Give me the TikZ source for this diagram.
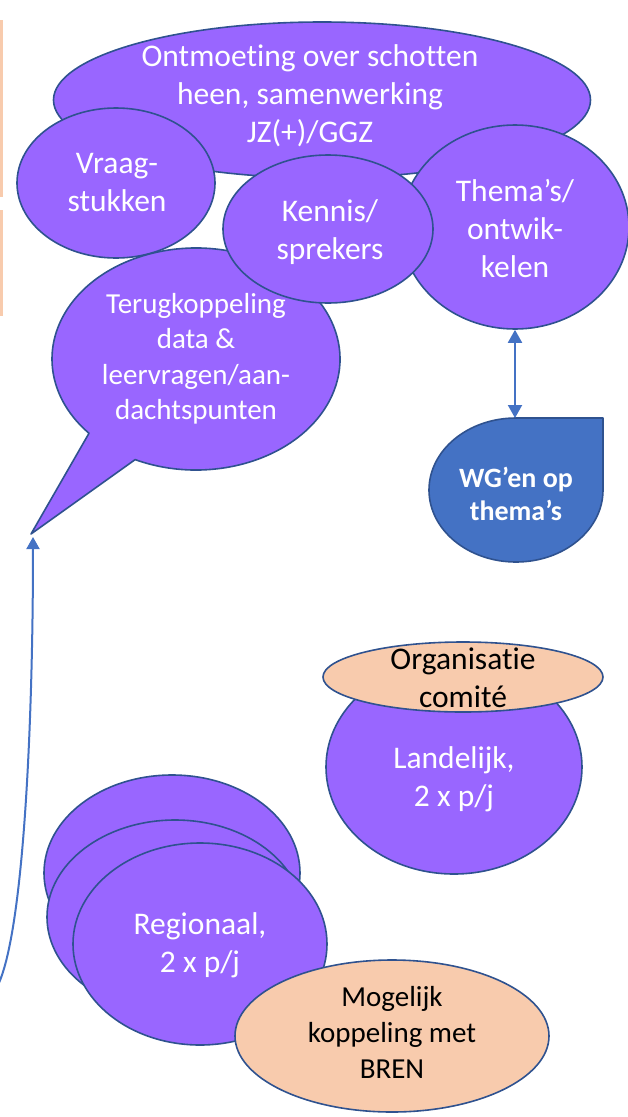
\documentclass[tikz,border=0pt]{standalone}
\usepackage{fontspec}
\setmainfont{Carlito}[Ligatures=NoCommon]
\usetikzlibrary{shapes.geometric,arrows.meta,calc}
\definecolor{purp}{HTML}{9966FF}
\definecolor{edgeblue}{HTML}{2F528F}
\definecolor{peach}{HTML}{F8CBAD}
\definecolor{arrowblue}{HTML}{4472C4}
\begin{document}
\begin{tikzpicture}[x=1pt,y=-1pt,
  blob/.style={ellipse,draw=edgeblue,line width=1.6pt,fill=purp,inner sep=0pt},
  peachblob/.style={ellipse,draw=edgeblue,line width=1.6pt,fill=peach,inner sep=0pt},
  shapeline/.style={draw=edgeblue,line width=1.6pt,line join=round},
  wtxt/.style={text=white,align=center,inner sep=0pt,font=\fontsize{31.5}{38}\selectfont},
  btxt/.style={text=black,align=center,inner sep=0pt,font=\fontsize{31.5}{38}\selectfont},
  conn/.style={draw=arrowblue,line width=2pt}
]
\useasboundingbox (0,0) rectangle (628,1117);
% peach strips at left edge
\fill[peach] (0,20) rectangle (2.7,197);
\fill[peach] (0,210) rectangle (2.7,316);

% top cluster
\node[blob,minimum width=537pt,minimum height=156pt] (meet) at (322,100) {};
\node[blob,minimum width=228pt,minimum height=204pt] (thema) at (515,227) {};
\node[blob,minimum width=198pt,minimum height=150pt] (vraag) at (116,183) {};
\filldraw[shapeline,fill=purp] (31,534) coordinate (calltip)
  -- ($(196,359)+(245:144pt and 111pt)$)
  arc[start angle=245,end angle=582,x radius=144pt,y radius=111pt] -- cycle;
\node[blob,minimum width=210pt,minimum height=148pt] (kennis) at (328,229) {};

% WG shape
\coordinate (wgtop) at (516,418);
\filldraw[shapeline,fill=arrowblue] (wgtop) -- (603,418) -- (603,490)
  arc[start angle=0,end angle=-90,x radius=87pt,y radius=72pt]
  arc[start angle=-90,end angle=-270,x radius=87pt,y radius=72pt] -- cycle;

% Landelijk
\node[blob,minimum width=256pt,minimum height=214pt] (land) at (454,767) {};
\node[peachblob,minimum width=280pt,minimum height=70pt] (org) at (463,677) {};

% Regionaal
\node[blob,minimum width=256pt,minimum height=196pt] (reg3) at (172,873) {};
\node[blob,minimum width=256pt,minimum height=194pt] (reg2) at (175,917) {};
\node[blob,minimum width=254pt,minimum height=202pt] (reg1) at (200,944) {};
\node[peachblob,minimum width=314pt,minimum height=152pt] (bren) at (392,1036) {};

% texts
\node[wtxt] (meettxt) at (310,96) {Ontmoeting over schotten\\heen, samenwerking\\JZ(+)/GGZ};
\node[wtxt] (vraagtxt) at (117,183) {Vraag-\\stukken};
\node[wtxt] (kennistxt) at (330,232) {Kennis/\\sprekers};
\node[wtxt] (thematxt) at (515,228) {Thema’s/\\ontwik-\\kelen};
\node[wtxt,font=\fontsize{29}{35.5}\selectfont] (terugtxt) at (196,359) {Terugkoppeling\\data \&\\leervragen/aan-\\dachtspunten};
\node[wtxt,font=\bfseries\fontsize{28}{33}\selectfont] (wgtxt) at (516,494) {WG’en op\\thema’s};
\node[btxt] (orgtxt) at (463,678) {Organisatie\\comité};
\node[wtxt] (landtxt) at (454,779) {Landelijk,\\2 x p/j};
\node[wtxt] (regtxt) at (200,945) {Regionaal,\\2 x p/j};
\node[btxt,font=\fontsize{29}{36}\selectfont] (brentxt) at (392,1032) {Mogelijk\\koppeling met\\BREN};

% connectors
\draw[conn,{Triangle[length=13pt,width=14pt]}-{Triangle[length=13pt,width=14pt]}] (thema.south) -- (thema.south |- wgtop);
\coordinate (src) at (-2,985);
\coordinate (arrtip) at (33,537);
\draw[conn,-{Triangle[length=12pt,width=13pt]}] (src) .. controls (24,930) and (33,720) .. (arrtip);
\end{tikzpicture}
\end{document}
